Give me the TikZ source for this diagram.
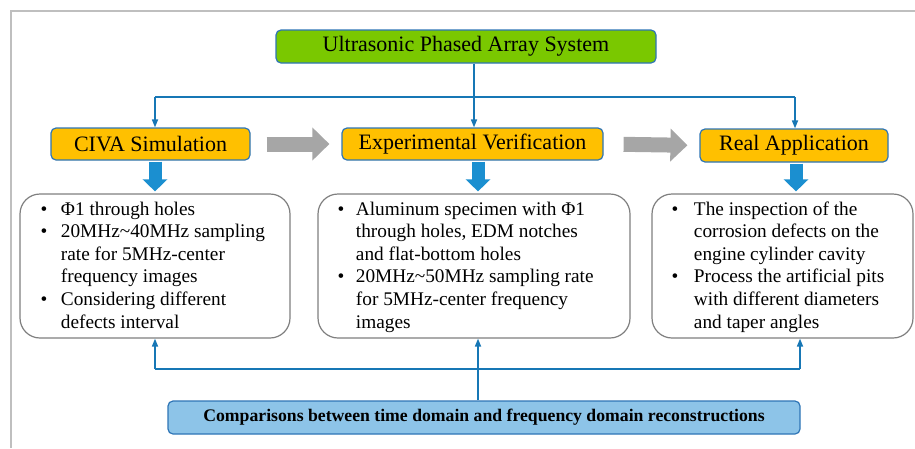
\documentclass[tikz,border=0pt]{standalone}
\usepackage{fontspec}
\setmainfont{Liberation Serif}
\usetikzlibrary{arrows.meta}
\definecolor{green1}{HTML}{7AC800}
\definecolor{orange1}{HTML}{FFC000}
\definecolor{edgeblue}{HTML}{2E75B6}
\definecolor{connblue}{HTML}{1777B5}
\definecolor{thickblue}{HTML}{1B8FD0}
\definecolor{grayarrow}{HTML}{A6A6A6}
\definecolor{compfill}{HTML}{8DC4E8}
\definecolor{framegray}{HTML}{BFBFBF}
\definecolor{boxgray}{HTML}{7F7F7F}
\begin{document}
\begin{tikzpicture}[x=1pt,y=-1pt,
  hdr/.style={draw=edgeblue, line width=1.2pt, rounded corners=5pt, fill=orange1, minimum height=32pt, inner sep=0pt, font=\fontsize{22}{26}\selectfont},
  topbox/.style={draw=edgeblue, line width=1.2pt, rounded corners=5pt, fill=green1, minimum width=380pt, minimum height=33pt, inner sep=0pt, font=\fontsize{22}{26}\selectfont},
  compbox/.style={draw=edgeblue, line width=1.2pt, rounded corners=5pt, fill=compfill, minimum width=632pt, minimum height=33pt, inner sep=0pt, font=\fontsize{17.7}{21}\selectfont\bfseries},
  wbox/.style={draw=boxgray, line width=1.2pt, rounded corners=20pt, fill=white, minimum height=144pt, inner sep=0pt},
  btext/.style={anchor=base west, inner sep=0pt, font=\fontsize{19.3}{22.6}\selectfont},
  conn/.style={draw=connblue, line width=1.6pt},
  tip/.style={-{Triangle[length=8pt,width=6pt]}},
  bigarrow/.style={draw=thickblue, line width=13pt, -{Triangle[length=12pt,width=24pt]}, shorten <=1pt, shorten >=2pt},
  grayarr/.style={draw=grayarrow, line width=15pt, -{Triangle[length=17pt,width=32pt]}}
]
\useasboundingbox (0,0) rectangle (915,448);
% outer frame
\coordinate (fb) at (11,448);
\coordinate (fc) at (11,11);
\coordinate (fr) at (915,11);
\draw[framegray, line width=1.3pt] (fb) -- (fc) -- (fr);

% nodes
\node[topbox] (ups) at (466,46.5) {Ultrasonic Phased Array System};
\node[hdr, minimum width=199pt] (civa) at (150.5,144) {CIVA Simulation};
\node[hdr, minimum width=261pt] (exp) at (472.5,144) {Experimental Verification};
\node[hdr, minimum width=188pt, minimum height=33pt] (real) at (794,145.5) {Real Application};

\node[wbox, minimum width=270pt] (box1) at (155,266) {};
\node[wbox, minimum width=312pt] (box2) at (474,266) {};
\node[wbox, minimum width=261pt] (box3) at (782.5,266) {};

\node[compbox] (comp) at (484,417.5) {Comparisons between time domain and frequency domain reconstructions};

% texts in boxes
\node[btext] (t1) at (40.5,215) {\begin{tabular}[t]{@{}l@{\hspace{13.5pt}}l@{}}
\textbullet & Φ1 through holes\\
\textbullet & 20MHz\textasciitilde40MHz sampling\\
 & rate for 5MHz-center\\
 & frequency images\\
\textbullet & Considering different\\
 & defects interval
\end{tabular}};
\node[btext] (t2) at (337.5,215) {\begin{tabular}[t]{@{}l@{\hspace{11.5pt}}l@{}}
\textbullet & Aluminum specimen with Φ1\\
 & through holes, EDM notches\\
 & and flat-bottom holes\\
\textbullet & 20MHz\textasciitilde50MHz sampling rate\\
 & for 5MHz-center frequency\\
 & images
\end{tabular}};
\node[btext] (t3) at (671.5,215) {\begin{tabular}[t]{@{}l@{\hspace{15.5pt}}l@{}}
\textbullet & The inspection of the\\
 & corrosion defects on the\\
 & engine cylinder cavity\\
\textbullet & Process the artificial pits\\
 & with different diameters\\
 & and taper angles
\end{tabular}};

% x positions for connectors
\coordinate (x155) at (155,0);
\coordinate (x474) at (474,0);
\coordinate (x478) at (478,0);
\coordinate (x796) at (796,0);

% top connectors
\coordinate (a1) at (155,97);
\coordinate (a3) at (795,97);
\draw[conn] (a1) -- (a3);
\draw[conn,tip] (a1) -- (a1 |- civa.north);
\draw[conn,tip] (a3) -- (a3 |- real.north);
\draw[conn,tip] (ups.south -| x474) -- (exp.north -| x474);

% gray process arrows
\draw[grayarr, shorten <=16pt, shorten >=12pt] (civa.east) -- (exp.west);
\draw[grayarr, shorten <=20pt, shorten >=12pt] (exp.east) -- (real.west);

% thick blue arrows
\draw[bigarrow] (civa.south -| x155) -- (box1.north -| x155);
\draw[bigarrow] (exp.south -| x478) -- (box2.north -| x478);
\draw[bigarrow] (real.south -| x796) -- (box3.north -| x796);

% bottom connectors
\coordinate (b1) at (155,369);
\coordinate (b3) at (800,369);
\draw[conn] (b1) -- (b3);
\draw[conn,tip] (b1) -- (b1 |- box1.south);
\draw[conn,tip] (b3) -- (b3 |- box3.south);
\draw[conn,tip] (comp.north -| x478) -- (box2.south -| x478);
\end{tikzpicture}
\end{document}
